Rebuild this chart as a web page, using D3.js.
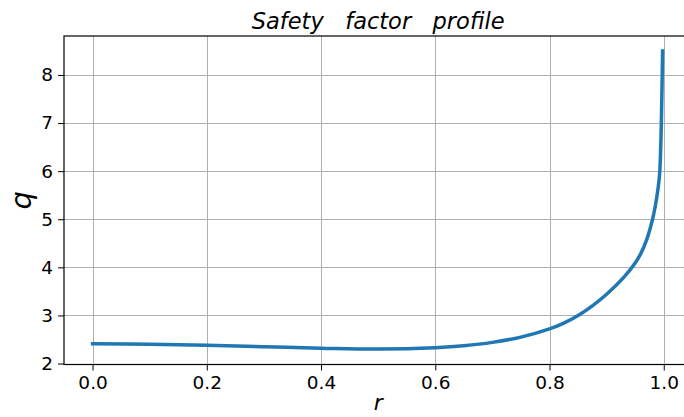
<!DOCTYPE html>
<html>
<head>
<meta charset="utf-8">
<script src="https://cdn.jsdelivr.net/npm/d3@7"></script>
<style>
  html, body { margin: 0; padding: 0; background: #fff; overflow: hidden; }
  svg { display: block; font-family: "DejaVu Sans", sans-serif; }
</style>
</head>
<body>
<svg id="chart" width="684" height="417"></svg>
<script>
// Safety factor q as a function of normalised radius r
const radius = [0, 0.1, 0.2, 0.3, 0.4, 0.5, 0.6, 0.65, 0.7, 0.75, 0.8, 0.825, 0.85, 0.875, 0.9, 0.93, 0.95, 0.96, 0.97, 0.98, 0.985, 0.99, 0.993, 0.998];
const safetyFactor = [2.41, 2.40, 2.38, 2.35, 2.32, 2.30, 2.33, 2.37, 2.44, 2.55, 2.72, 2.84, 3.00, 3.20, 3.44, 3.79, 4.09, 4.29, 4.57, 4.98, 5.26, 5.64, 5.98, 8.50];

const xTicks = [0, 0.2, 0.4, 0.6, 0.8, 1.0];
const yTicks = [2, 3, 4, 5, 6, 7, 8];

const svg = d3.select("#chart");

// Axes box (right edge runs past the window)
const boxL = 64, boxR = 692.3, boxT = 36, boxB = 364.5;

const x = d3.scaleLinear().domain([-0.05, 1.05]).range([boxL, boxR]);
const y = d3.scaleLinear().domain([1.98, 8.81]).range([boxB, boxT]);

// Grid
const grid = svg.append("g").attr("stroke", "#b0b0b0").attr("stroke-width", 1);
grid.selectAll("line.v").data(xTicks).join("line")
  .attr("class", "v")
  .attr("x1", d => Math.round(x(d)) + 0.5).attr("x2", d => Math.round(x(d)) + 0.5)
  .attr("y1", boxT).attr("y2", boxB);
grid.selectAll("line.h").data(yTicks).join("line")
  .attr("class", "h")
  .attr("y1", d => Math.round(y(d)) + 0.5).attr("y2", d => Math.round(y(d)) + 0.5)
  .attr("x1", boxL).attr("x2", boxR);

// Curve
const pts = radius.map((r, i) => [r, safetyFactor[i]]);
const line = d3.line().x(d => x(d[0])).y(d => y(d[1])).curve(d3.curveCatmullRom.alpha(0.5));
svg.append("path")
  .attr("d", line(pts))
  .attr("fill", "none")
  .attr("stroke", "#1f77b4")
  .attr("stroke-width", 3.5)
  .attr("stroke-linejoin", "round")
  .attr("stroke-linecap", "square");

// Axes
const xAxis = d3.axisBottom(x).tickValues(xTicks).tickFormat(d3.format(".1f")).tickSize(6).tickPadding(5);
const yAxis = d3.axisLeft(y).tickValues(yTicks).tickFormat(d3.format("d")).tickSize(6).tickPadding(5);

const gx = svg.append("g").attr("transform", `translate(0,${boxB})`).call(xAxis);
const gy = svg.append("g").attr("transform", `translate(${boxL},0)`).call(yAxis);
[gx, gy].forEach(g => {
  g.select(".domain").remove();
  g.selectAll(".tick line").attr("stroke", "#000").attr("stroke-width", 1);
  g.selectAll(".tick text").attr("fill", "#000")
    .style("font-family", "'DejaVu Sans', sans-serif").style("font-size", "18.5px");
});

// Frame
svg.append("rect")
  .attr("x", boxL).attr("y", boxT)
  .attr("width", boxR - boxL).attr("height", boxB - boxT)
  .attr("fill", "none").attr("stroke", "#000").attr("stroke-width", 1.2);

// Titles
svg.append("text")
  .attr("x", (boxL + boxR) / 2).attr("y", 28.5)
  .attr("text-anchor", "middle")
  .style("font-size", "22.5px").style("font-style", "italic")
  .text("Safety\u00a0\u00a0\u00a0factor\u00a0\u00a0\u00a0profile");

svg.append("text")
  .attr("x", (boxL + boxR) / 2).attr("y", 410)
  .attr("text-anchor", "middle")
  .style("font-size", "22px").style("font-style", "italic")
  .text("r");

svg.append("text")
  .attr("transform", `translate(31,${(boxT + boxB) / 2}) rotate(-90)`)
  .attr("text-anchor", "middle")
  .style("font-size", "29px").style("font-style", "italic")
  .text("q");
</script>
</body>
</html>
